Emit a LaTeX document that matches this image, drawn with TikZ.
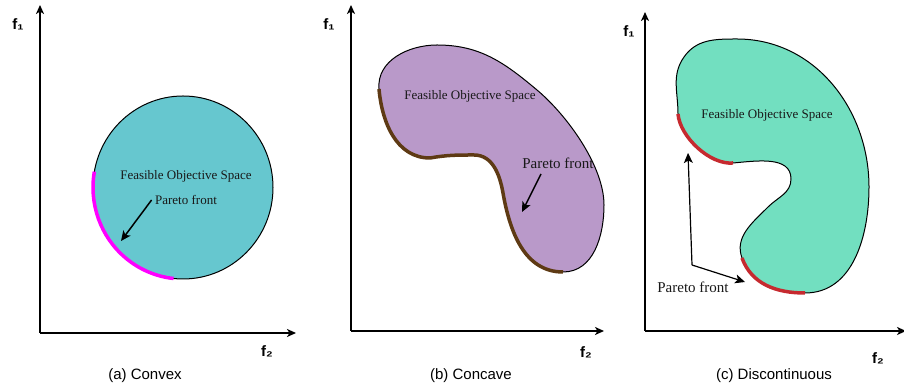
\documentclass[tikz,border=0pt]{standalone}
\usepackage{fontspec}
\setmainfont{Liberation Serif}
\setsansfont{Liberation Sans}
\usepackage{tikz}
\usetikzlibrary{arrows.meta}
\usepackage{xcolor}

\definecolor{convexfill}{HTML}{66C7CF}
\definecolor{concavefill}{HTML}{B999C9}
\definecolor{discfill}{HTML}{72DFC0}
\definecolor{convexfront}{HTML}{FF00FF}
\definecolor{concavefront}{HTML}{5E3A14}
\definecolor{discfront}{HTML}{C62A2F}

\tikzset{
    axis/.style={line width=1.7pt, -{Stealth[length=9pt,width=8pt,inset=2.5pt]}},
    region/.style={draw=black, line width=1pt},
    front/.style={line width=3.5pt},
    pointer/.style={line width=1.5pt, -{Stealth[length=10pt,width=9pt,inset=2.5pt]}},
    axislabel/.style={font=\sffamily\bfseries\fontsize{15}{17}\selectfont},
    caption/.style={font=\sffamily\fontsize{15}{17}\selectfont},
    spacelabel/.style={font=\rmfamily\fontsize{13}{15}\selectfont, text=black!90},
    frontlabel/.style={font=\rmfamily\fontsize{15}{17}\selectfont, text=black!90}
}

\begin{document}
\begin{tikzpicture}[x=1pt, y=1pt]
    \useasboundingbox (0,0) rectangle (904,387);

    % (a) Convex
    \coordinate (oa) at (40,54);
    \coordinate (ya) at (40,382);
    \coordinate (xa) at (296,54);
    \coordinate (ca) at (183,199.5);
    \draw[region, fill=convexfill] (ca) ellipse[x radius=90, y radius=91.5];
    \draw[front, convexfront] (ca) ++(170:90 and 91.5) arc[start angle=170, end angle=264, x radius=90, y radius=91.5];
    \draw[axis] (oa) -- (ya);
    \draw[axis] (oa) -- (xa);
    \node[axislabel] (f1a) at (18,363) {f₁};
    \node[axislabel] (f2a) at (267,36) {f₂};
    \node[caption] (capa) at (145,11) {(a) Convex};
    \node[spacelabel] (fsa) at (186,211) {Feasible Objective Space};
    \node[spacelabel] (pfa) at (186,187) {Pareto front};
    \coordinate (pa) at (121,146);
    \draw[pointer] (pfa.west) -- (pa);

    % (b) Concave
    \coordinate (ob) at (351,56);
    \coordinate (yb) at (351,382);
    \coordinate (xb) at (604,56);
    \coordinate (b1) at (379,298);
    \coordinate (b2) at (430,229);
    \coordinate (b3) at (474,232);
    \coordinate (b4) at (503,194);
    \coordinate (b5) at (563,115);
    \coordinate (b6) at (604,182);
    \coordinate (b8) at (537,297);
    \coordinate (b9) at (437,342);
    \draw[region, fill=concavefill] (b1) to[out=-85,in=180] (b2) to[out=10,in=180] (b3)
        to[out=0,in=100] (b4) to[out=-80,in=180] (b5) to[out=0,in=-90] (b6)
        to[out=90,in=-40,looseness=0.75] (b8) to[out=140,in=0] (b9)
        to[out=180,in=95] cycle;
    \draw[front, concavefront] (b1) to[out=-85,in=180] (b2) to[out=10,in=180] (b3)
        to[out=0,in=100] (b4) to[out=-80,in=180] (b5);
    \draw[axis] (ob) -- (yb);
    \draw[axis] (ob) -- (xb);
    \node[axislabel] (f1b) at (329,363) {f₁};
    \node[axislabel] (f2b) at (586,35) {f₂};
    \node[caption] (capb) at (471,11) {(b) Concave};
    \node[spacelabel] (fsb) at (470,291) {Feasible Objective Space};
    \node[frontlabel] (pfb) at (558,224) {Pareto front};
    \coordinate (sb) at (541,213);
    \coordinate (pb) at (522,175);
    \draw[pointer] (sb) -- (pb);

    % (c) Discontinuous
    \coordinate (oc) at (645,56);
    \coordinate (yc) at (645,375);
    \coordinate (xc) at (906,56);
    \coordinate (c1) at (678,273);
    \coordinate (c2) at (733,224);
    \coordinate (c3) at (791,208);
    \coordinate (c4) at (768,180);
    \coordinate (c5) at (742,129);
    \coordinate (c6) at (805,94);
    \coordinate (c7) at (869,200);
    \coordinate (c8) at (737,348);
    \coordinate (c9) at (684,330);
    \draw[region, fill=discfill] (c1) to[out=-85,in=185,looseness=0.8] (c2) to[out=5,in=90] (c3)
        to[out=-90,in=45] (c4) to[out=-135,in=110] (c5) to[out=-70,in=180] (c6)
        to[out=0,in=-90] (c7) to[out=90,in=0] (c8) to[out=180,in=55] (c9)
        to[out=-125,in=90] cycle;
    \draw[front, discfront] (c1) to[out=-85,in=185,looseness=0.8] (c2);
    \draw[front, discfront] (c5) to[out=-70,in=180] (c6);
    \draw[axis] (oc) -- (yc);
    \draw[axis] (oc) -- (xc);
    \node[axislabel] (f1c) at (629,356) {f₁};
    \node[axislabel] (f2c) at (878,29) {f₂};
    \node[caption] (capc) at (774,11) {(c) Discontinuous};
    \node[spacelabel] (fsc) at (767,272) {Feasible Objective Space};
    \node[frontlabel] (pfc) at (693,100) {Pareto front};
    \coordinate (jc) at (692,122);
    \coordinate (pc1) at (688,234);
    \coordinate (pc2) at (745,105);
    \draw[pointer, line width=1.2pt] (jc) -- (pc1);
    \draw[pointer, line width=1.2pt] (jc) -- (pc2);
\end{tikzpicture}
\end{document}
